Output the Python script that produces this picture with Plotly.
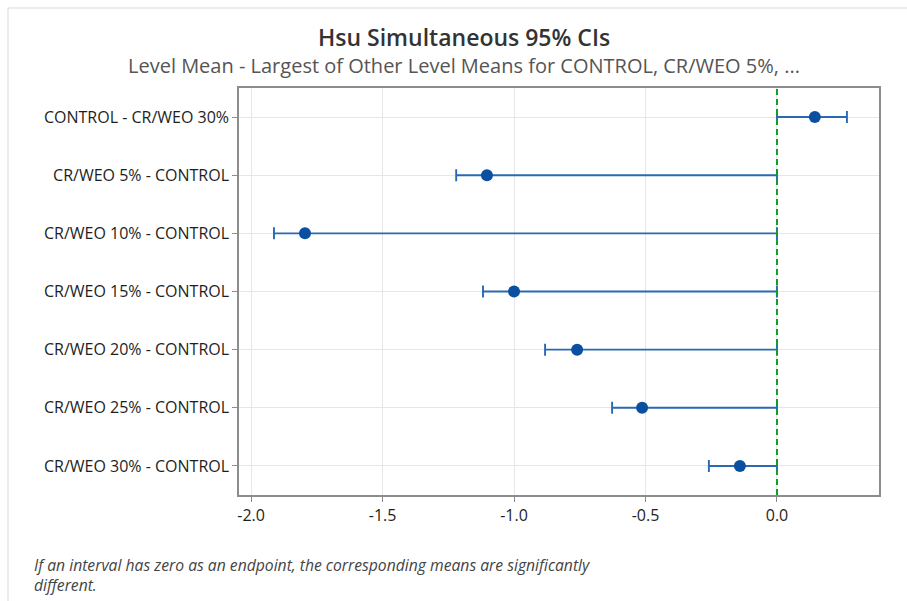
import plotly.graph_objects as go

# Hsu multiple comparisons with the best: intervals for each level
comparisons = [
    "CONTROL - CR/WEO 30%",
    "CR/WEO 5% - CONTROL",
    "CR/WEO 10% - CONTROL",
    "CR/WEO 15% - CONTROL",
    "CR/WEO 20% - CONTROL",
    "CR/WEO 25% - CONTROL",
    "CR/WEO 30% - CONTROL",
]
center = [0.144, -1.103, -1.795, -1.000, -0.760, -0.513, -0.141]
lower = [0.000, -1.220, -1.913, -1.118, -0.882, -0.627, -0.259]
upper = [0.266, 0.000, 0.000, 0.000, 0.000, 0.000, 0.000]
x_ticks = [-2.0, -1.5, -1.0, -0.5, 0.0]
x_tick_text = ["-2.0", "-1.5", "-1.0", "-0.5", "0.0"]

W, H = 907, 601
L, R, T, B = 239, 28, 88, 106
PW, PH = W - L - R, H - T - B

blue_line = "#2a68b4"
blue_mark = "#0a4fa0"
font_family = "Open Sans, Noto Sans, sans-serif"

fig = go.Figure()

fig.add_trace(go.Scatter(
    x=center,
    y=comparisons,
    mode="markers",
    marker=dict(symbol="circle", size=12, color=blue_mark),
    error_x=dict(
        type="data",
        symmetric=False,
        array=[u - c for u, c in zip(upper, center)],
        arrayminus=[c - lo for c, lo in zip(center, lower)],
        color=blue_line,
        thickness=1.9,
        width=6,
    ),
    showlegend=False,
    hoverinfo="x+y",
))

# reference line at zero difference
fig.add_vline(
    x=0,
    line_color="#0f9d2a",
    line_width=2,
    line_dash="6px,4px",
    layer="above",
)

# outer window frame
fig.add_shape(
    type="rect", xref="paper", yref="paper",
    x0=(8 - L) / PW, x1=(W + 20 - L) / PW,
    y0=-(B + 20) / PH,
    y1=1 + (T - 8) / PH,
    line=dict(color="#d9d9d9", width=1),
    fillcolor="rgba(0,0,0,0)",
    layer="below",
)

fig.update_layout(
    width=W,
    height=H,
    margin=dict(l=L, r=R, t=T, b=B),
    paper_bgcolor="white",
    plot_bgcolor="white",
    font=dict(family=font_family, color="#222222"),
    annotations=[
        dict(
            text="Hsu Simultaneous 95% CIs",
            xref="paper", yref="paper",
            x=(464 - L) / PW, y=1 + (T - 37) / PH,
            xanchor="center", yanchor="middle",
            showarrow=False,
            font=dict(size=23, color="#333333", family=font_family, weight=600),
        ),
        dict(
            text="Level Mean - Largest of Other Level Means for CONTROL, CR/WEO 5%, ...",
            xref="paper", yref="paper",
            x=(464 - L) / PW, y=1 + (T - 65) / PH,
            xanchor="center", yanchor="middle",
            showarrow=False,
            font=dict(size=20, color="#555555", family=font_family),
        ),
        dict(
            text="<i>If an interval has zero as an endpoint, the corresponding means are significantly<br>different.</i>",
            xref="paper", yref="paper",
            x=(32 - L) / PW, y=-(552 - (H - B)) / PH,
            xanchor="left", yanchor="top",
            align="left",
            showarrow=False,
            font=dict(size=15.7, color="#444444", family=font_family),
        ),
    ],
)

axis_style = dict(
    showgrid=True,
    gridcolor="#e6e6e6",
    gridwidth=1,
    zeroline=False,
    showline=True,
    linecolor="#8c8c8c",
    linewidth=1.5,
    mirror=True,
    ticks="outside",
    ticklen=5,
    tickcolor="#8c8c8c",
    tickfont=dict(size=16, color="#1e1e1e"),
)

fig.update_xaxes(
    range=[-2.046, 0.388],
    tickvals=x_ticks,
    ticktext=x_tick_text,
    **axis_style,
)

fig.update_yaxes(
    type="category",
    categoryorder="array",
    categoryarray=comparisons,
    range=[6.5, -0.5],
    **axis_style,
)

fig.write_html("out.html")
